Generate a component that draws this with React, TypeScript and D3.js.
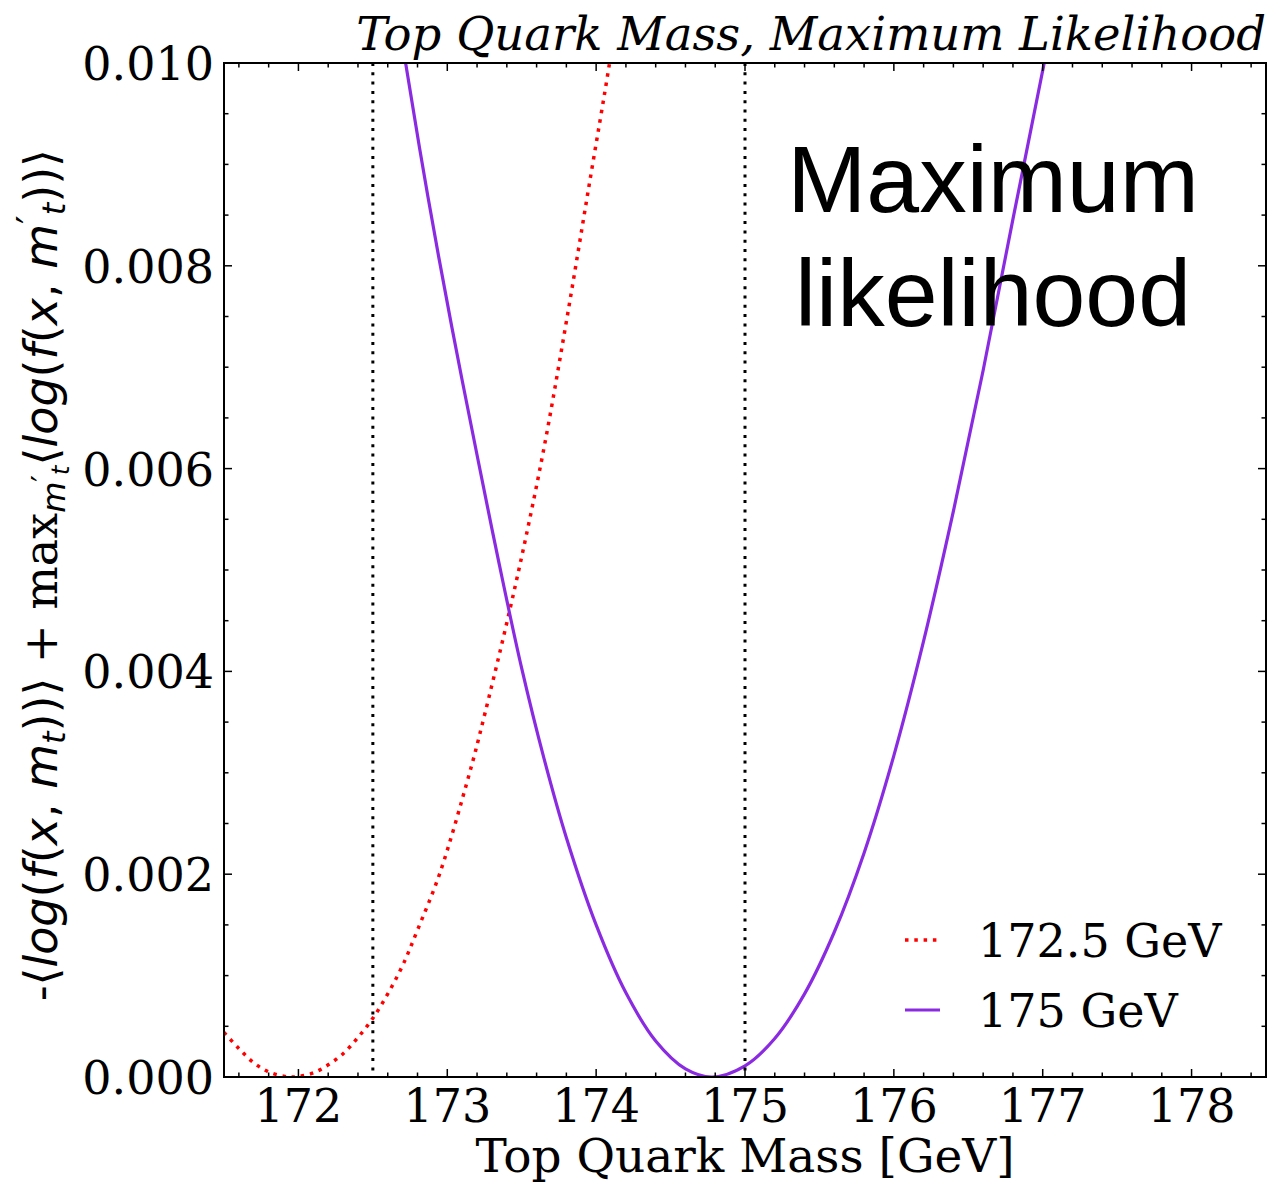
import React from "react";
import * as d3 from "d3";

// ---- data ----
const redMass = [171.5, 171.6, 171.7, 171.8, 171.9, 171.95, 172.0, 172.1, 172.2, 172.3, 172.4, 172.5, 172.6, 172.7, 172.8, 172.95, 173.15, 173.23, 173.45, 173.64, 173.8, 173.95, 174.09, 174.15];
const redVal = [0.00044, 0.00028, 0.00014, 0.00005, 0.000007, 0.0, 0.000004, 0.00004, 0.00012, 0.00023, 0.00039, 0.00058, 0.00082, 0.0011, 0.00145, 0.00201, 0.003, 0.00345, 0.0048, 0.00613, 0.00745, 0.00877, 0.01, 0.0106];

const purpleMass = [172.66, 172.72, 172.87, 173.03, 173.21, 173.35, 173.5, 173.65, 173.8, 174.0, 174.2, 174.4, 174.6, 174.78, 175.0, 175.2, 175.4, 175.6, 175.8, 176.0, 176.2, 176.4, 176.6, 176.8, 177.01, 177.06];
const purpleVal = [0.0106, 0.01, 0.00868, 0.0074, 0.00606, 0.00505, 0.00403, 0.00314, 0.00236, 0.0015, 0.00083, 0.000355, 0.00008, 0.0, 0.00011, 0.00038, 0.00082, 0.00143, 0.00221, 0.00317, 0.0043, 0.00558, 0.00697, 0.00846, 0.01, 0.0104];

const refLines = [172.5, 175];
const xTicks = [172, 173, 174, 175, 176, 177, 178];
const yTicks = [0, 0.002, 0.004, 0.006, 0.008, 0.01];
const legendLabels = ["172.5 GeV", "175 GeV"];
const titleText = "Top Quark Mass, Maximum Likelihood";
const xLabelText = "Top Quark Mass [GeV]";
const annotLines = ["Maximum", "likelihood"];

const W = 1275, H = 1184;
const L = 224, R = 1266, T = 63, B = 1077;

const SERIF = "'DejaVu Serif', serif";
const SANS = "'DejaVu Sans', sans-serif";

export default function App() {
  const x = d3.scaleLinear().domain([171.5, 178.5]).range([L, R]);
  const y = d3.scaleLinear().domain([0, 0.01]).range([B, T]);

  const line = d3.line<[number, number]>()
    .x((d) => x(d[0]))
    .y((d) => y(d[1]))
    .curve(d3.curveCatmullRom.alpha(0.5));

  const redPts: [number, number][] = redMass.map((m, i) => [m, redVal[i]]);
  const purPts: [number, number][] = purpleMass.map((m, i) => [m, purpleVal[i]]);

  const xMinor = d3.range(171.6, 178.45, 0.2).filter((v) => Math.abs(v - Math.round(v)) > 0.01);
  const yMinor = d3.range(0.0005, 0.01, 0.0005).filter((v) => Math.abs(v / 0.002 - Math.round(v / 0.002)) > 0.01);

  const tk = { stroke: "#000", strokeWidth: 1.5 };
  const fmt = d3.format(".3f");

  return (
    <svg width={W} height={H} style={{ position: "absolute", left: 0, top: 0, background: "#fff" }}>
      <rect x={0} y={0} width={W} height={H} fill="#fff" />
      <defs>
        <clipPath id="plotClip">
          <rect x={L} y={T} width={R - L} height={B - T} />
        </clipPath>
      </defs>

      {/* curves */}
      <g clipPath="url(#plotClip)">
        <path d={line(redPts) || ""} fill="none" stroke="#ff0000" strokeWidth={3.5} strokeDasharray="3.5 5.8" />
        <path d={line(purPts) || ""} fill="none" stroke="#8a2be2" strokeWidth={3.2} />
        {refLines.map((v) => (
          <line key={v} x1={x(v)} x2={x(v)} y1={T} y2={B} stroke="#000" strokeWidth={3} strokeDasharray="3 6.3" />
        ))}
      </g>

      {/* ticks */}
      {xTicks.map((v) => (
        <g key={"xt" + v}>
          <line x1={x(v)} x2={x(v)} y1={B} y2={B - 8} {...tk} />
          <line x1={x(v)} x2={x(v)} y1={T} y2={T + 8} {...tk} />
          <text x={x(v)} y={1122} textAnchor="middle" fontFamily={SERIF} fontSize={46}>{v}</text>
        </g>
      ))}
      {xMinor.map((v, i) => (
        <g key={"xm" + i}>
          <line x1={x(v)} x2={x(v)} y1={B} y2={B - 4.5} {...tk} />
          <line x1={x(v)} x2={x(v)} y1={T} y2={T + 4.5} {...tk} />
        </g>
      ))}
      {yTicks.map((v) => (
        <g key={"yt" + v}>
          <line x1={L} x2={L + 8} y1={y(v)} y2={y(v)} {...tk} />
          <line x1={R} x2={R - 8} y1={y(v)} y2={y(v)} {...tk} />
          <text x={214} y={y(v) + 17} textAnchor="end" fontFamily={SERIF} fontSize={46}>{fmt(v)}</text>
        </g>
      ))}
      {yMinor.map((v, i) => (
        <g key={"ym" + i}>
          <line x1={L} x2={L + 4.5} y1={y(v)} y2={y(v)} {...tk} />
          <line x1={R} x2={R - 4.5} y1={y(v)} y2={y(v)} {...tk} />
        </g>
      ))}

      {/* frame */}
      <rect x={L} y={T} width={R - L} height={B - T} fill="none" stroke="#000" strokeWidth={2} />

      {/* title */}
      <text x={R} y={50} textAnchor="end" fontFamily={SERIF} fontStyle="italic" fontSize={46.5}>{titleText}</text>

      {/* x label */}
      <text x={745} y={1172} textAnchor="middle" fontFamily={SERIF} fontSize={47}>{xLabelText}</text>

      {/* y label */}
      <text transform={`translate(57, 575) rotate(-90)`} textAnchor="middle" fontSize={46} fontFamily={SANS}>
        <tspan fontFamily={SERIF}>-</tspan>
        <tspan>⟨</tspan>
        <tspan fontStyle="italic">log</tspan>
        <tspan>(</tspan>
        <tspan fontStyle="italic">f</tspan>
        <tspan>(</tspan>
        <tspan fontStyle="italic">x</tspan>
        <tspan>, </tspan>
        <tspan fontStyle="italic">m</tspan>
        <tspan fontStyle="italic" fontSize={32} dy={8}>t</tspan>
        <tspan dy={-8}>))⟩</tspan>
        <tspan fontFamily={SERIF}> + max</tspan>
        <tspan fontStyle="italic" fontSize={32} dy={8}>m</tspan>
        <tspan fontSize={30} dy={-12}>′</tspan>
        <tspan fontStyle="italic" fontSize={24} dy={16}>t</tspan>
        <tspan dy={-12}>⟨</tspan>
        <tspan fontStyle="italic">log</tspan>
        <tspan>(</tspan>
        <tspan fontStyle="italic">f</tspan>
        <tspan>(</tspan>
        <tspan fontStyle="italic">x</tspan>
        <tspan>, </tspan>
        <tspan fontStyle="italic">m</tspan>
        <tspan fontSize={38} dy={-14}>′</tspan>
        <tspan fontStyle="italic" fontSize={32} dy={22}>t</tspan>
        <tspan dy={-8}>))⟩</tspan>
      </text>

      {/* annotation */}
      {annotLines.map((s, i) => (
        <text key={s} x={993} y={212 + i * 114} textAnchor="middle" fontFamily="'Liberation Sans', Arial, sans-serif" fontSize={95}>{s}</text>
      ))}

      {/* legend */}
      <line x1={905} x2={940} y1={940} y2={940} stroke="#ff0000" strokeWidth={3.5} strokeDasharray="3.5 5.8" />
      <text x={978} y={957} fontFamily={SERIF} fontSize={46}>{legendLabels[0]}</text>
      <line x1={905} x2={940} y1={1010} y2={1010} stroke="#8a2be2" strokeWidth={3.2} />
      <text x={978} y={1027} fontFamily={SERIF} fontSize={46}>{legendLabels[1]}</text>
    </svg>
  );
}
